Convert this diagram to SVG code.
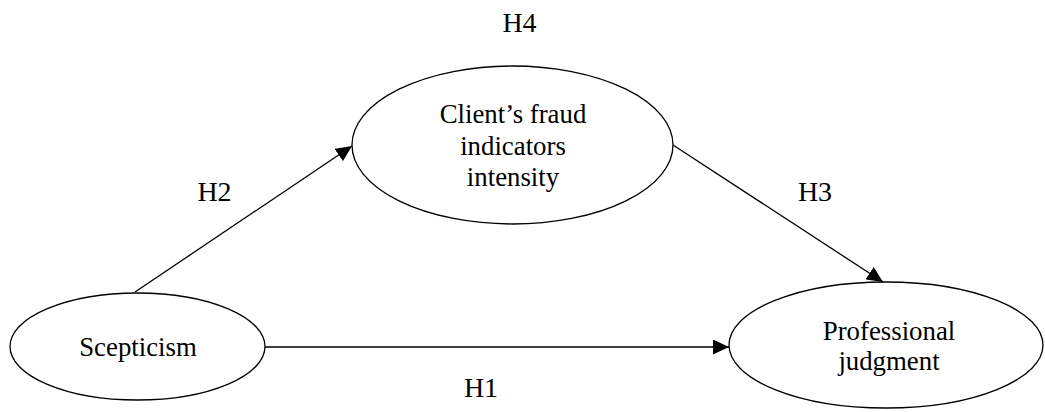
<svg xmlns="http://www.w3.org/2000/svg" width="1045" height="412" viewBox="0 0 1045 412">
<style>
.node{fill:#fff;stroke:#000;stroke-width:1.3}
.t{font-family:"Liberation Serif","Times New Roman",serif;font-size:26.8px;fill:#000;text-anchor:middle}
.lbl{font-family:"Liberation Serif","Times New Roman",serif;font-size:28px;fill:#000;text-anchor:middle}
.edge{stroke:#000;stroke-width:1.3;fill:none;marker-end:url(#ah)}
</style>
<defs>
<marker id="ah" markerUnits="userSpaceOnUse" markerWidth="17" markerHeight="15" refX="16" refY="7.5" orient="auto">
<path d="M0,0 L16,7.5 L0,15 z" fill="#000"/>
</marker>
</defs>
<rect width="1045" height="412" fill="#fff"/>
<g id="connectors">
<line class="edge" x1="135" y1="292" x2="352" y2="146"/>
<line class="edge" x1="673" y1="145" x2="883" y2="282"/>
<line class="edge" x1="265" y1="347" x2="729" y2="347"/>
</g>
<g id="node-fraud">
<ellipse class="node" cx="512.5" cy="145" rx="160.5" ry="79"/>
<text class="t" x="513" y="123">Client’s fraud</text>
<text class="t" x="513" y="155">indicators</text>
<text class="t" x="513" y="186">intensity</text>
</g>
<g id="node-scepticism">
<ellipse class="node" cx="137.5" cy="346.5" rx="127.5" ry="53.5"/>
<text class="t" x="138" y="356">Scepticism</text>
</g>
<g id="node-judgment">
<ellipse class="node" cx="886" cy="345" rx="157" ry="63"/>
<text class="t" x="889" y="340">Professional</text>
<text class="t" x="889" y="370">judgment</text>
</g>
<g id="labels">
<text class="lbl" x="519.5" y="32">H4</text>
<text class="lbl" x="214.5" y="201">H2</text>
<text class="lbl" x="815" y="201">H3</text>
<text class="lbl" x="481" y="397">H1</text>
</g>
</svg>
